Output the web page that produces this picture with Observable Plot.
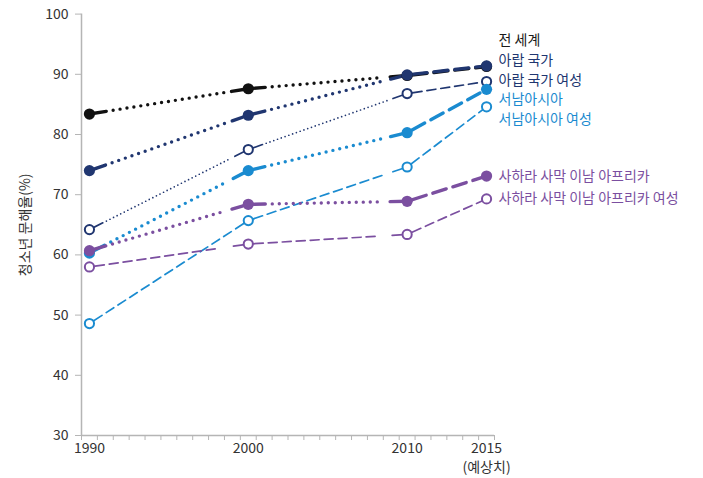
<!DOCTYPE html>
<html>
<head>
<meta charset="utf-8">
<script src="https://cdn.jsdelivr.net/npm/d3@7"></script>
<script src="https://cdn.jsdelivr.net/npm/@observablehq/plot@0.6"></script>
<style>
  body { margin: 0; background: #fff; }
  #chart { width: 703px; height: 478px; }
</style>
</head>
<body>
<div id="chart"></div>
<script>
// ---- data ----
const years = [1990, 2000, 2010, 2015];
const seriesNames = [
  "전 세계",
  "아랍 국가",
  "아랍 국가 여성",
  "서남아시아",
  "서남아시아 여성",
  "사하라 사막 이남 아프리카",
  "사하라 사막 이남 아프리카 여성"
];
const world           = [83.4, 87.6, 89.8, 91.3];
const arab            = [74.0, 83.2, 89.9, 91.4];
const arabFemale      = [64.2, 77.5, 86.8, 88.8];
const southAsia       = [60.3, 74.0, 80.3, 87.5];
const southAsiaFemale = [48.6, 65.7, 74.6, 84.6];
const ssa             = [60.7, 68.4, 68.9, 73.1];
const ssaFemale       = [58.0, 61.8, 63.4, 69.3];
const yTicks = [30, 40, 50, 60, 70, 80, 90, 100];
const xTickLabels = ["1990", "2000", "2010", "2015"];
const projectionNote = "(예상치)";
const yLabel = "청소년 문해율(%)";

// ---- styling (not data) ----
const values = [world, arab, arabFemale, southAsia, southAsiaFemale, ssa, ssaFemale];
const styles = [
  {color: "#111111", thick: true,  filled: true,  segs: ["dot", "dot", "dash"],  dy: -25.5},
  {color: "#203670", thick: true,  filled: true,  segs: ["dot", "dot", "dash"],  dy: -4.9},
  {color: "#203670", thick: false, filled: false, segs: ["dot", "dot", "dash"],  dy: -1},
  {color: "#1a8bd0", thick: true,  filled: true,  segs: ["dot", "dot", "dash"],  dy: 10.6},
  {color: "#1a8bd0", thick: false, filled: false, segs: ["dash", "dash", "dash"], dy: 12.7},
  {color: "#7b4fa0", thick: true,  filled: true,  segs: ["dot", "dot", "dash"],  dy: 0},
  {color: "#7b4fa0", thick: false, filled: false, segs: ["dash", "dash", "dash"], dy: 0}
];

const segRows = [];
values.forEach((vals, si) => {
  for (let i = 0; i < years.length - 1; i++) {
    const st = styles[si];
    const kind = (st.thick ? "thick" : "thin") + "-" + st.segs[i] + "-" + (i === years.length - 2 ? "last" : "mid");
    const key = si + "-" + i;
    segRows.push({si, key, kind, year: years[i], value: vals[i]});
    segRows.push({si, key, kind, year: years[i + 1], value: vals[i + 1]});
  }
});
const kinds = [...new Set(segRows.map(d => d.kind))];

const marks = [];
// axes
marks.push(Plot.axisX({ticks: d3.range(1989.5, 2016, 1), tickSize: 5, tickFormat: () => "", color: "#b5b5b5", label: null}));
marks.push(Plot.axisX({ticks: years, tickSize: 0, tickPadding: 8, tickFormat: d => xTickLabels[years.indexOf(d)], color: "#333", label: null}));
marks.push(Plot.axisX({ticks: [years[years.length - 1]], tickSize: 0, tickPadding: 27, tickFormat: () => projectionNote, color: "#333", label: null}));
marks.push(Plot.axisY({ticks: yTicks, tickSize: 6, tickFormat: () => "", color: "#b5b5b5", label: null}));
marks.push(Plot.axisY({ticks: yTicks, tickSize: 0, tickPadding: 13, color: "#333",
  label: yLabel, labelAnchor: "center", labelOffset: 61, labelArrow: "none"}));
marks.push(Plot.ruleY([30], {stroke: "#b5b5b5", strokeWidth: 1.5}));
marks.push(Plot.ruleX([1989.5], {stroke: "#b5b5b5", strokeWidth: 1.5}));

// lines
styles.forEach((st, si) => {
  kinds.forEach(k => {
    const rows = segRows.filter(d => d.si === si && d.kind === k);
    if (!rows.length) return;
    marks.push(Plot.line(rows, {
      x: "year", y: "value", z: "key",
      stroke: st.color, strokeWidth: st.thick ? 3.4 : 1.7,
      strokeLinecap: "round", ariaDescription: k
    }));
  });
});
// points
styles.forEach((st, si) => {
  const pts = values[si].map((v, i) => ({year: years[i], value: v}));
  marks.push(Plot.dot(pts, st.filled
    ? {x: "year", y: "value", r: 5.6, fill: st.color, stroke: "none"}
    : {x: "year", y: "value", r: 4.6, fill: "white", stroke: st.color, strokeWidth: 2}));
});
// labels
styles.forEach((st, si) => {
  const last = values[si].length - 1;
  marks.push(Plot.text([{year: years[last], value: values[si][last]}], {
    x: "year", y: "value", text: () => seriesNames[si],
    dx: 12, dy: st.dy, textAnchor: "start", fill: st.color === "#111111" ? "#1a1a1a" : st.color,
    fontSize: 14
  }));
});

const svg = Plot.plot({
  width: 703,
  height: 478,
  marginLeft: 81,
  marginRight: 209,
  marginTop: 13.6,
  marginBottom: 43,
  x: {type: "linear", domain: [1989.5, 2015.5], label: null},
  y: {domain: [30, 100], label: null},
  style: {fontFamily: "'Noto Sans CJK KR', 'Noto Sans', sans-serif", fontSize: "14px", color: "#333", background: "white"},
  marks
});
document.getElementById("chart").appendChild(svg);

// apply solid end-stubs + dotted / dashed middle patterns
const pat = {
  "thick-dot":  {d: 0,  g: 7, s: 17},
  "thin-dot":   {d: 0,  g: 4, s: 15},
  "thick-dash": {d: 14, g: 7, s: 20},
  "thin-dash":  {d: 9,  g: 5, s: 15}
};
svg.querySelectorAll("g[aria-description]").forEach(g => {
  const k = g.getAttribute("aria-description");
  const parts = k.split("-");
  const p = pat[parts[0] + "-" + parts[1]];
  if (!p) return;
  const isLast = parts[2] === "last";
  g.querySelectorAll("path").forEach(path => {
    const L = path.getTotalLength();
    const s0 = p.s, s1 = isLast ? 0 : p.s;
    const arr = [s0];
    let at = s0;
    while (at + p.g + p.d + p.g <= L - s1) { arr.push(p.g, p.d); at += p.g + p.d; }
    if (s1 > 0) { arr.push(Math.max(0, L - s1 - at), s1 + 20, 1000); }
    else { arr.push(p.g, p.d, 1000); }
    path.setAttribute("stroke-dasharray", arr.map(v => v.toFixed(2)).join(" "));
  });
});
</script>
</body>
</html>
